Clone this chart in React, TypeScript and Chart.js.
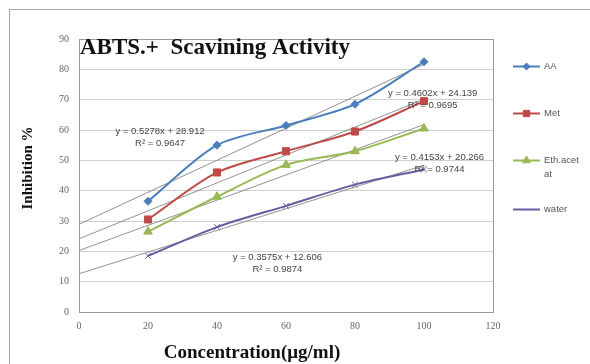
import React, { useEffect, useRef } from "react";
import { Chart, registerables } from "chart.js";
import { drawPoint } from "chart.js/helpers";

Chart.register(...registerables);

// ---- data ----
const concentrations = [20, 40, 60, 80, 100];
const aaValues = [36.5, 55, 61.5, 68.5, 82.5];
const metValues = [30.5, 46, 53, 59.5, 69.5];
const ethValues = [26.5, 38, 48.5, 53, 60.5];
const waterValues = [18.5, 28, 35, 42, 47];
const seriesValues = [aaValues, metValues, ethValues, waterValues];
const seriesNames = ["AA", "Met", "Eth.acet at", "water"];
const legendLines = [["AA"], ["Met"], ["Eth.acet", "at"], ["water"]];
const seriesColors = ["#4A7EBB", "#BE4B48", "#98B954", "#6A5AA0"];
const seriesMarkers = ["rectRot", "rect", "triangle", "crossRot"];
const markerSizes = [4, 5, 5, 4];

// trendlines (as given by the equations in the chart)
const slopes = [0.5278, 0.4602, 0.4153, 0.3575];
const intercepts = [28.912, 24.139, 20.266, 12.606];
const equationTexts = [
  "y = 0.5278x + 28.912",
  "y = 0.4602x + 24.139",
  "y = 0.4153x + 20.266",
  "y = 0.3575x + 12.606",
];
const rSquaredTexts = ["R² = 0.9647", "R² = 0.9695", "R² = 0.9744", "R² = 0.9874"];
const labelX = [23.5, 102.5, 104.5, 57.5];
const labelY = [59.7, 72.2, 51.1, 18.1];
const trendStartX = 0;
const trendEndX = 100;

const xMin = 0;
const xMax = 120;
const xStep = 20;
const yMin = 0;
const yMax = 90;
const yStep = 10;

const chartTitle = "ABTS.+  Scavining Activity";
const xTitle = "Concentration(μg/ml)";
const yTitle = "Inhibition %";

export default function App() {
  const ref = useRef<HTMLCanvasElement | null>(null);

  useEffect(() => {
    document.body.style.margin = "0";
    const canvas = ref.current;
    if (!canvas) return;

    const datasets: any[] = [];
    seriesValues.forEach((vals, i) => {
      datasets.push({
        label: seriesNames[i],
        data: concentrations.map((c, j) => ({ x: c, y: vals[j] })),
        showLine: true,
        borderColor: seriesColors[i],
        backgroundColor: seriesColors[i],
        borderWidth: 2,
        tension: 0.3,
        pointStyle: seriesMarkers[i],
        pointRadius: markerSizes[i],
        pointBorderColor: seriesColors[i],
        pointBackgroundColor: seriesColors[i],
        pointBorderWidth: 1,
        order: 1,
      });
    });
    slopes.forEach((m, i) => {
      datasets.push({
        label: "trend " + seriesNames[i],
        data: [
          { x: trendStartX, y: intercepts[i] + m * trendStartX },
          { x: trendEndX, y: intercepts[i] + m * trendEndX },
        ],
        showLine: true,
        borderColor: "rgba(110,110,110,0.75)",
        borderWidth: 1,
        pointRadius: 0,
        tension: 0,
        order: 2,
      });
    });

    const decor = {
      id: "decor",
      beforeDraw(chart: any) {
        const ctx = chart.ctx;
        const a = chart.chartArea;
        ctx.save();
        ctx.fillStyle = "#ffffff";
        ctx.fillRect(0, 0, chart.width, chart.height);
        ctx.strokeStyle = "#a8a8a8";
        ctx.lineWidth = 1;
        ctx.strokeRect(9.5, 9.5, 700, 500);
        ctx.restore();
      },
      afterDatasetsDraw(chart: any) {
        const ctx = chart.ctx;
        const a = chart.chartArea;
        const xs = chart.scales.x;
        const ys = chart.scales.y;
        ctx.save();
        // plot border
        ctx.strokeStyle = "#9a9a9a";
        ctx.lineWidth = 1;
        ctx.strokeRect(Math.round(a.left) + 0.5, Math.round(a.top) + 0.5, Math.round(a.right - a.left), Math.round(a.bottom - a.top));

        // equations
        ctx.fillStyle = "#444";
        ctx.font = "9.5px 'Liberation Sans', Arial, sans-serif";
        ctx.textAlign = "center";
        ctx.textBaseline = "middle";
        equationTexts.forEach((t, i) => {
          const px = xs.getPixelForValue(labelX[i]);
          const py = ys.getPixelForValue(labelY[i]);
          ctx.fillText(t, px, py);
          ctx.fillText(rSquaredTexts[i], px, py + 12);
        });

        // title
        ctx.fillStyle = "#111";
        ctx.font = "bold 23px 'Liberation Serif', 'Times New Roman', serif";
        ctx.textAlign = "left";
        ctx.textBaseline = "alphabetic";
        ctx.fillText(chartTitle, a.left + 1, a.top + 15);

        // x title
        ctx.font = "bold 19px 'Liberation Serif', 'Times New Roman', serif";
        ctx.textAlign = "center";
        ctx.fillText(xTitle, 252, 358);

        // y title
        ctx.save();
        ctx.translate(28, 168);
        ctx.rotate(-Math.PI / 2);
        ctx.font = "bold 15px 'Liberation Serif', 'Times New Roman', serif";
        ctx.textAlign = "center";
        ctx.textBaseline = "middle";
        ctx.fillText(yTitle, 0, 0);
        ctx.restore();

        // legend
        const legendY = [66, 113, 160, 209];
        const lx0 = 513;
        const lx1 = 540;
        legendLines.forEach((lines, i) => {
          const y = legendY[i];
          ctx.strokeStyle = seriesColors[i];
          ctx.lineWidth = 2;
          ctx.beginPath();
          ctx.moveTo(lx0, y + 0.5);
          ctx.lineTo(lx1, y + 0.5);
          ctx.stroke();
          if (i < 3) {
            ctx.fillStyle = seriesColors[i];
            ctx.strokeStyle = seriesColors[i];
            ctx.lineWidth = 1;
            drawPoint(ctx, { pointStyle: seriesMarkers[i], radius: markerSizes[i] - 0.5, borderWidth: 1, rotation: 0 } as any, (lx0 + lx1) / 2, y + 0.5);
          }
          ctx.fillStyle = "#555";
          ctx.font = "9.5px 'Liberation Sans', Arial, sans-serif";
          ctx.textAlign = "left";
          ctx.textBaseline = "middle";
          lines.forEach((ln, k) => ctx.fillText(ln, lx1 + 4, y + k * 14));
        });
        ctx.restore();
      },
    };

    const chart = new Chart(canvas, {
      type: "scatter",
      data: { datasets },
      options: {
        animation: false,
        responsive: false,
        maintainAspectRatio: false,
        layout: { padding: { left: 0, top: 39, right: 97, bottom: 0 } },
        plugins: { legend: { display: false }, tooltip: { enabled: false }, title: { display: false } },
        scales: {
          x: {
            type: "linear",
            min: xMin,
            max: xMax,
            ticks: {
              stepSize: xStep,
              color: "#666",
              font: { family: "'Liberation Serif', serif", size: 10 },
              padding: 8,
              maxRotation: 0,
            },
            grid: { display: false, drawTicks: false },
            border: { display: true, color: "#9a9a9a" },
            afterFit: (s: any) => {
              s.height = 52;
            },
          },
          y: {
            type: "linear",
            min: yMin,
            max: yMax,
            ticks: {
              stepSize: yStep,
              color: "#666",
              font: { family: "'Liberation Serif', serif", size: 10 },
              padding: 10,
            },
            grid: { color: "#cfcfcf", drawTicks: false },
            border: { display: true, color: "#9a9a9a" },
            afterFit: (s: any) => {
              s.width = 79;
            },
          },
        },
      },
      plugins: [decor],
    });
    return () => chart.destroy();
  }, []);

  return (
    <div style={{ width: 590, height: 364 }}>
      <canvas ref={ref} width={590} height={364} style={{ display: "block" }} />
    </div>
  );
}
